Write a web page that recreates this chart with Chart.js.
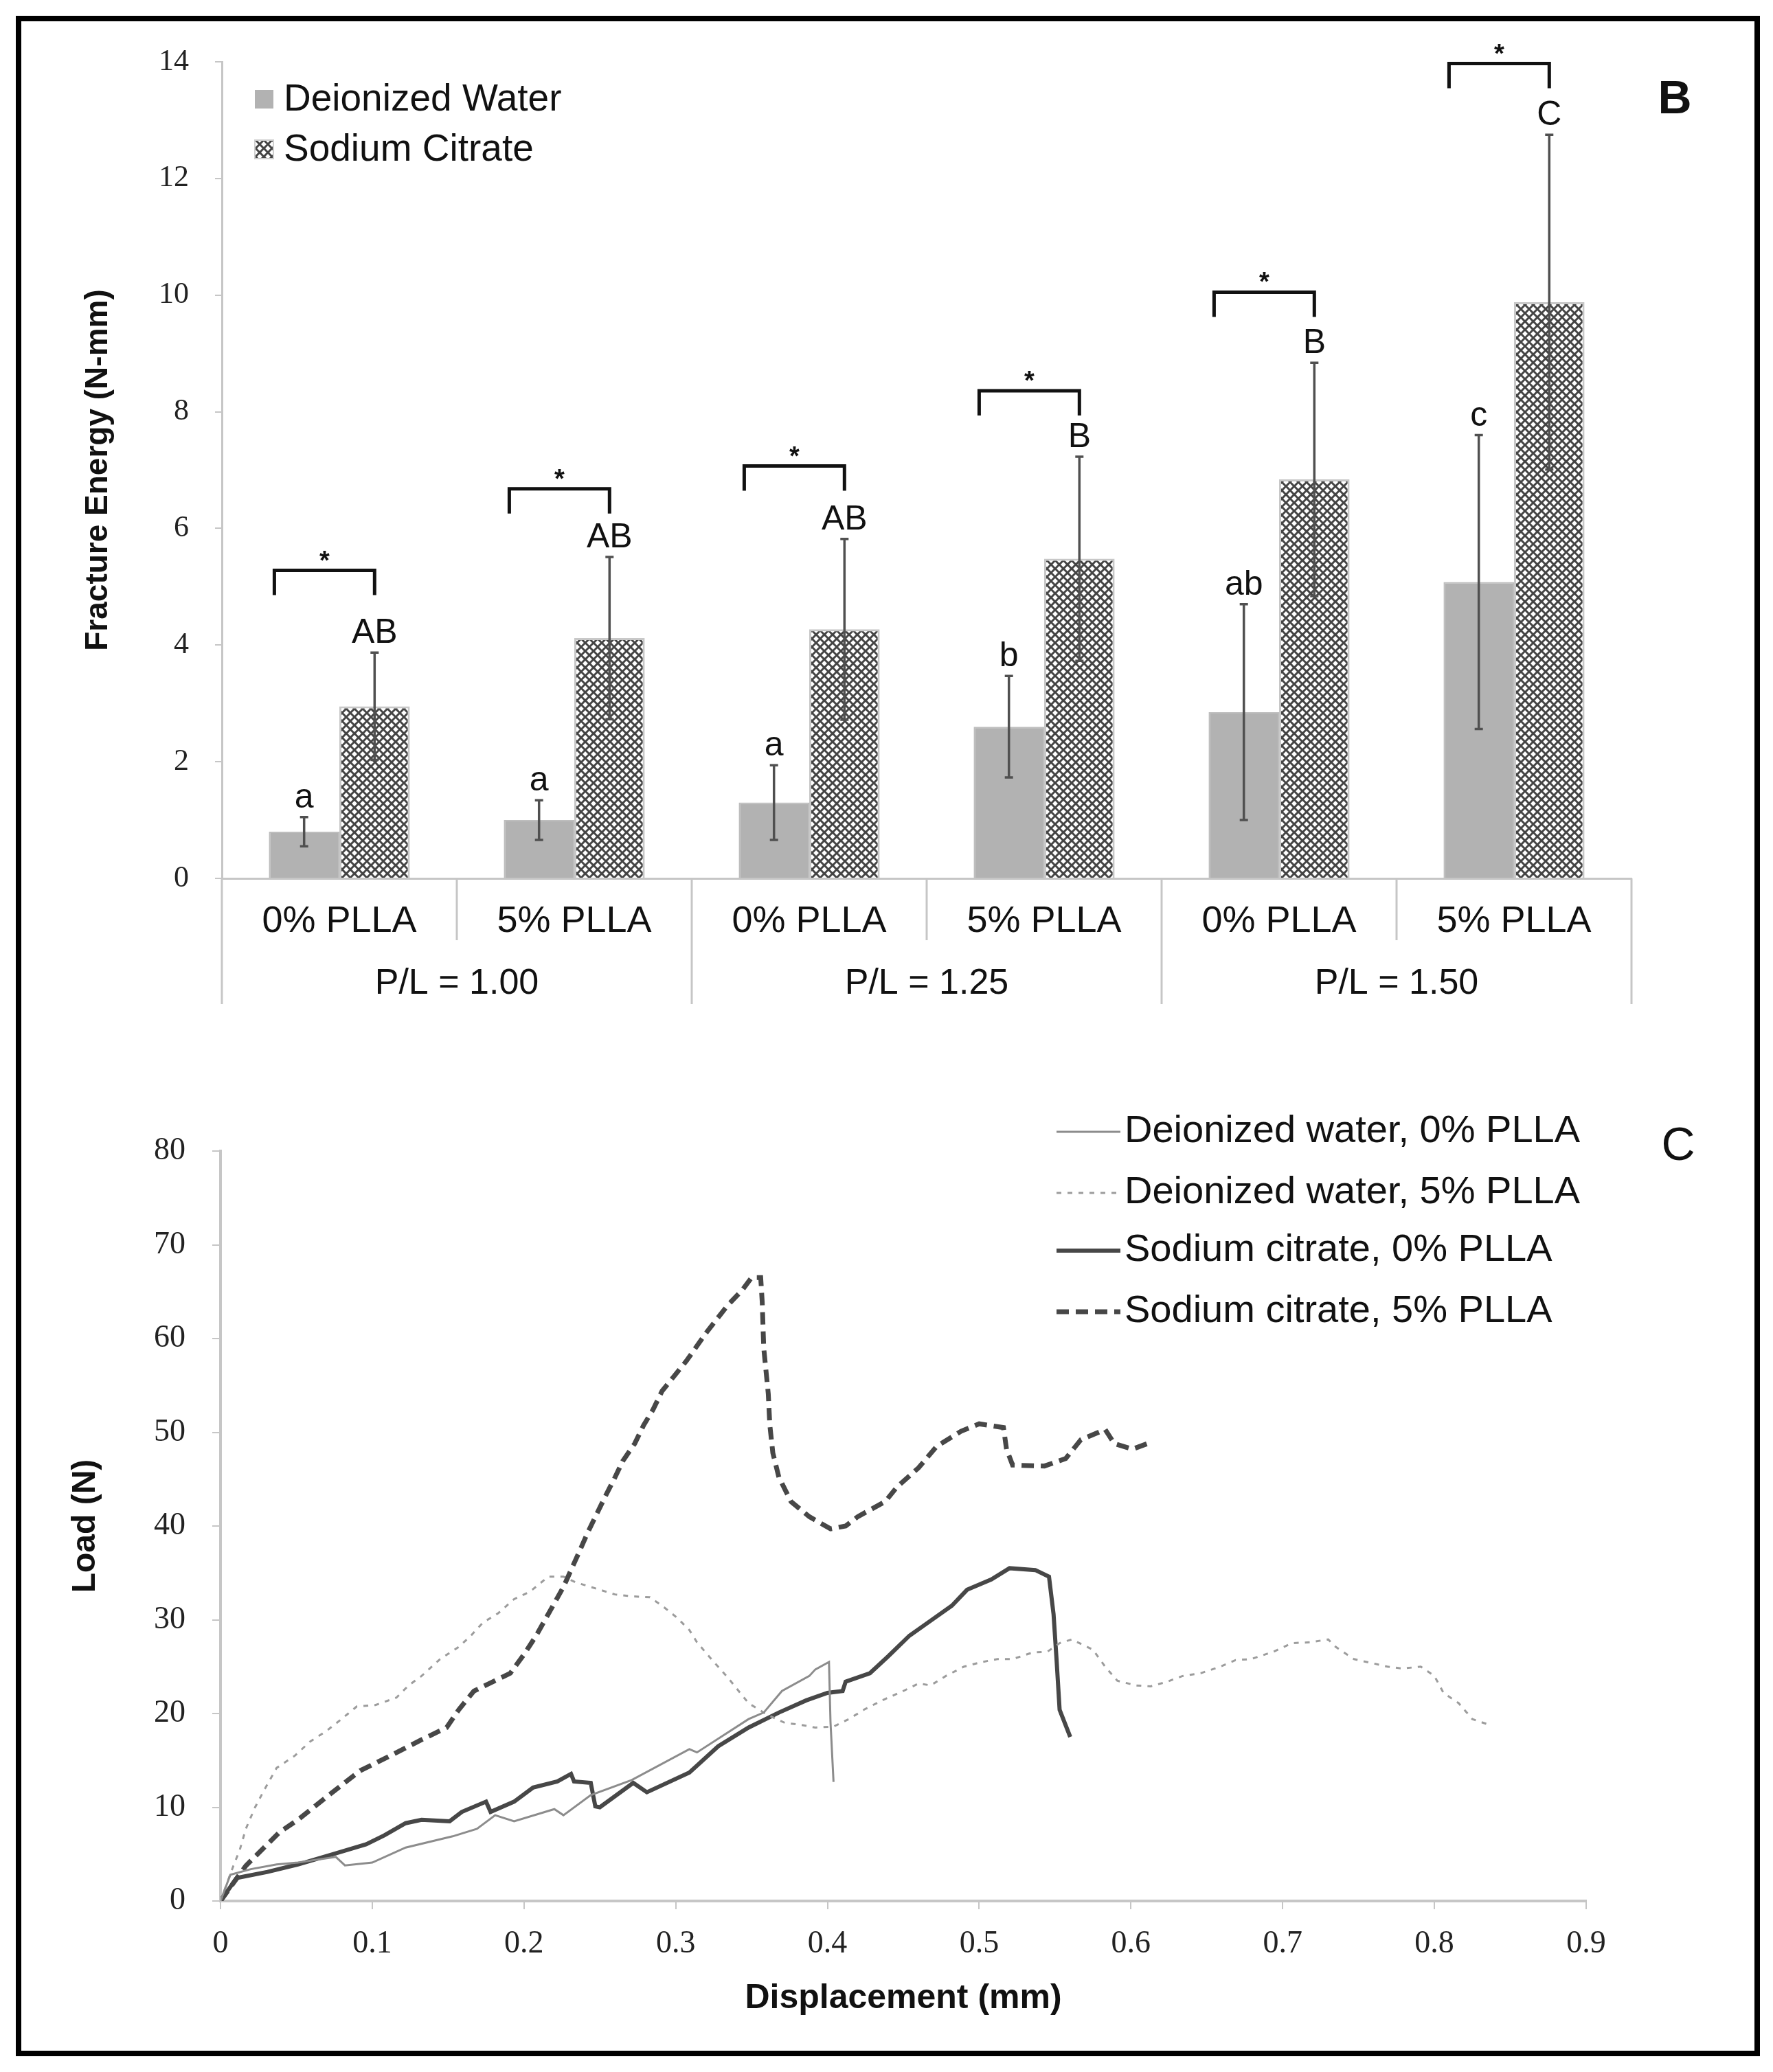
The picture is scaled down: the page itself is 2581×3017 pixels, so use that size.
<!DOCTYPE html>
<html>
<head>
<meta charset="utf-8">
<script src="https://cdn.jsdelivr.net/npm/chart.js@4.4.0/dist/chart.umd.min.js"></script>
<style>
  body { margin: 0; background: #fff; width: 2581px; height: 3017px; position: relative; overflow: hidden; }
  #frame { position: absolute; left: 23px; top: 23px; width: 2539px; height: 2971px; border: 8px solid #000; box-sizing: border-box; }
  #c1 { position: absolute; left: 0; top: 0; }
  #c2 { position: absolute; left: 0; top: 1500px; }
</style>
</head>
<body>
<div id="frame"></div>
<canvas id="c1" width="2581" height="1500"></canvas>
<canvas id="c2" width="2581" height="1517"></canvas>
<script>
// ---- panel B data ----
const categories = ["0% PLLA", "5% PLLA", "0% PLLA", "5% PLLA", "0% PLLA", "5% PLLA"];
const groups = ["P/L = 1.00", "P/L = 1.25", "P/L = 1.50"];
const waterMean = [0.8, 1.0, 1.3, 2.6, 2.85, 5.08];
const waterErr = [0.25, 0.34, 0.64, 0.87, 1.85, 2.52];
const citrateMean = [2.95, 4.12, 4.27, 5.48, 6.84, 9.88];
const citrateErr = [0.92, 1.39, 1.55, 1.75, 2.0, 2.87];
const waterLetters = ["a", "a", "a", "b", "ab", "c"];
const citrateLetters = ["AB", "AB", "AB", "B", "B", "C"];
const bracketLevel = [5.28, 6.68, 7.07, 8.36, 10.05, 13.97];

// ---- panel C data (displacement mm, load N) ----
const dw0X = [0, 0.0065, 0.02, 0.037, 0.051, 0.076, 0.082, 0.1, 0.122, 0.153, 0.169, 0.181, 0.1935, 0.22, 0.226, 0.244, 0.271, 0.309, 0.314, 0.348, 0.358, 0.37, 0.388, 0.392, 0.401, 0.402, 0.404];
const dw0Y = [0, 2.8, 3.4, 3.9, 4.1, 4.7, 3.8, 4.1, 5.7, 6.9, 7.7, 9.15, 8.5, 9.8, 9.15, 11.3, 12.9, 16.2, 15.85, 19.4, 20.1, 22.4, 24.0, 24.7, 25.5, 19.1, 12.7];
const dw5X = [0, 0.0085, 0.0126, 0.0167, 0.0228, 0.029, 0.037, 0.049, 0.059, 0.0695,
  0.0797, 0.0898, 0.102, 0.116, 0.124, 0.1325, 0.1447, 0.157, 0.165, 0.173,
  0.183, 0.1935, 0.204, 0.216, 0.226, 0.234, 0.244, 0.26, 0.271, 0.283,
  0.291, 0.301, 0.309, 0.314, 0.324, 0.334, 0.34, 0.348, 0.36, 0.372,
  0.382, 0.392, 0.404, 0.414, 0.424, 0.436, 0.45, 0.46, 0.468, 0.478,
  0.49, 0.502, 0.512, 0.522, 0.535, 0.545, 0.553, 0.561, 0.575, 0.583,
  0.591, 0.603, 0.613, 0.624, 0.634, 0.646, 0.659, 0.669, 0.679, 0.694,
  0.706, 0.718, 0.73, 0.735, 0.747, 0.761, 0.769, 0.779, 0.791, 0.8,
  0.806, 0.816, 0.825, 0.836];
const dw5Y = [0, 3.76, 5.4, 7.7, 10.0, 11.9, 14.2, 15.5, 17.0, 18.1,
  19.4, 20.75, 20.9, 21.7, 23.0, 24.0, 25.8, 27.1, 28.3, 29.7,
  30.7, 32.2, 33.0, 34.6, 34.6, 34.0, 33.5, 32.7, 32.5, 32.4,
  31.5, 30.2, 28.9, 27.6, 25.7, 23.9, 22.7, 21.1, 19.9, 19.0,
  18.8, 18.5, 18.6, 19.4, 20.4, 21.4, 22.4, 23.2, 23.0, 24.0,
  25.0, 25.5, 25.8, 25.8, 26.5, 26.6, 27.5, 27.9, 26.8, 25.0,
  23.5, 23.0, 22.9, 23.4, 24.0, 24.3, 25.0, 25.7, 25.8, 26.6,
  27.5, 27.6, 27.9, 27.1, 25.8, 25.3, 25.0, 24.8, 25.0, 24.0,
  22.2, 21.1, 19.4, 18.8];
const sc0X = [0, 0.0106, 0.031, 0.051, 0.0756, 0.096, 0.108, 0.122, 0.1325, 0.151,
  0.159, 0.175, 0.178, 0.1935, 0.206, 0.222, 0.231, 0.233, 0.244, 0.247,
  0.25, 0.272, 0.281, 0.309, 0.328, 0.348, 0.368, 0.386, 0.4, 0.41,
  0.412, 0.428, 0.44, 0.454, 0.468, 0.482, 0.492, 0.508, 0.52, 0.537,
  0.546, 0.549, 0.551, 0.553, 0.56];
const sc0Y = [0, 2.45, 3.1, 3.9, 5.07, 6.05, 7.0, 8.3, 8.66, 8.5,
  9.5, 10.6, 9.5, 10.6, 12.1, 12.75, 13.56, 12.75, 12.6, 10.1,
  10.0, 12.6, 11.6, 13.7, 16.5, 18.5, 20.1, 21.4, 22.2, 22.4,
  23.4, 24.3, 26.1, 28.3, 29.9, 31.5, 33.2, 34.3, 35.5, 35.3,
  34.6, 30.6, 25.7, 20.4, 17.5];
const sc5X = [0, 0.0167, 0.039, 0.051, 0.0715, 0.092, 0.112, 0.1325, 0.149, 0.157,
  0.167, 0.181, 0.191, 0.2, 0.208, 0.216, 0.226, 0.236, 0.242, 0.248,
  0.254, 0.26, 0.265, 0.273, 0.279, 0.285, 0.291, 0.299, 0.307, 0.32,
  0.334, 0.344, 0.35, 0.356, 0.357, 0.358, 0.361, 0.362, 0.364, 0.368,
  0.376, 0.388, 0.402, 0.412, 0.42, 0.438, 0.446, 0.46, 0.472, 0.488,
  0.5, 0.516, 0.518, 0.522, 0.543, 0.557, 0.567, 0.583, 0.589, 0.601,
  0.611];
const sc5Y = [0, 3.76, 7.35, 8.66, 11.3, 13.9, 15.5, 17.2, 18.5, 20.4,
  22.4, 23.5, 24.3, 26.3, 28.3, 30.6, 33.5, 37.1, 39.3, 41.3,
  43.3, 45.2, 46.9, 48.8, 50.8, 52.4, 54.4, 56.0, 57.6, 60.6,
  63.5, 65.2, 66.5, 66.5, 63.9, 59.0, 54.1, 50.8, 47.8, 45.2,
  42.6, 41.0, 39.7, 40.0, 41.0, 42.6, 44.2, 46.2, 48.5, 50.1,
  50.9, 50.5, 48.2, 46.5, 46.4, 47.2, 49.2, 50.3, 48.8, 48.2,
  48.8];
const seriesNames = ["Deionized water, 0% PLLA", "Deionized water, 5% PLLA", "Sodium citrate, 0% PLLA", "Sodium citrate, 5% PLLA"];

const SANS = "Liberation Sans";
const SERIF = "Liberation Serif";
const AXIS_GREY = "#c6c6c6";

function pts(xs, ys) {
  return xs.map((x, i) => ({ x: x, y: ys[i] }));
}

function hatch() {
  const c = document.createElement("canvas");
  c.width = c.height = 12;
  const g = c.getContext("2d");
  g.fillStyle = "#fff";
  g.fillRect(0, 0, 12, 12);
  g.strokeStyle = "#444";
  g.lineWidth = 3;
  g.beginPath();
  g.moveTo(-2, -2); g.lineTo(14, 14);
  g.moveTo(14, -2); g.lineTo(-2, 14);
  g.stroke();
  return g.createPattern(c, "repeat");
}
const hatchFill = hatch();

// error bars, letters, brackets, category labels, legend for panel B
const barDecor = {
  id: "barDecor",
  afterDatasetsDraw(chart) {
    const ctx = chart.ctx, y = chart.scales.y;
    const wBars = chart.getDatasetMeta(0).data, cBars = chart.getDatasetMeta(1).data;
    ctx.save();
    [[wBars, waterMean, waterErr, waterLetters], [cBars, citrateMean, citrateErr, citrateLetters]].forEach(([bars, mean, err, letters]) => {
      bars.forEach((b, i) => {
        const top = y.getPixelForValue(mean[i] + err[i]);
        const bot = y.getPixelForValue(mean[i] - err[i]);
        ctx.strokeStyle = "#505050";
        ctx.lineWidth = 3.5;
        ctx.beginPath();
        ctx.moveTo(b.x, top); ctx.lineTo(b.x, bot);
        ctx.moveTo(b.x - 6, top); ctx.lineTo(b.x + 6, top);
        ctx.moveTo(b.x - 6, bot); ctx.lineTo(b.x + 6, bot);
        ctx.stroke();
        ctx.fillStyle = "#111";
        ctx.font = "50px " + SANS;
        ctx.textAlign = "center";
        ctx.textBaseline = "alphabetic";
        ctx.fillText(letters[i], b.x, top - 14);
      });
    });
    // significance brackets
    wBars.forEach((b, i) => {
      const x1 = b.x - b.width / 2 + 8, x2 = cBars[i].x;
      const yl = y.getPixelForValue(bracketLevel[i]);
      ctx.strokeStyle = "#111";
      ctx.lineWidth = 5;
      ctx.beginPath();
      ctx.moveTo(x1, yl + 36); ctx.lineTo(x1, yl); ctx.lineTo(x2, yl); ctx.lineTo(x2, yl + 36);
      ctx.stroke();
      ctx.fillStyle = "#111";
      ctx.font = "bold 38px " + SANS;
      ctx.textAlign = "center";
      ctx.fillText("*", (x1 + x2) / 2, yl - 2);
    });
    ctx.restore();
  },
  afterDraw(chart) {
    const ctx = chart.ctx, a = chart.chartArea;
    const step = (a.right - a.left) / categories.length;
    ctx.save();
    ctx.strokeStyle = AXIS_GREY;
    ctx.lineWidth = 3;
    for (let k = 0; k <= categories.length; k++) {
      const bx = a.left + k * step;
      ctx.beginPath();
      ctx.moveTo(bx, a.bottom);
      ctx.lineTo(bx, k % 2 === 0 ? 1462 : 1369);
      ctx.stroke();
    }
    ctx.fillStyle = "#111";
    ctx.textAlign = "center";
    ctx.textBaseline = "middle";
    ctx.font = "54px " + SANS;
    categories.forEach((c, i) => ctx.fillText(c, chart.scales.x.getPixelForValue(i), 1342));
    ctx.font = "52px " + SANS;
    groups.forEach((g, i) => ctx.fillText(g, a.left + (2 * i + 1) * step, 1433));
    // legend
    ctx.textAlign = "left";
    ctx.font = "55px " + SANS;
    ctx.fillStyle = "#b2b2b2";
    ctx.fillRect(371, 131, 27, 27);
    ctx.fillStyle = hatchFill;
    ctx.fillRect(371, 204, 27, 27);
    ctx.strokeStyle = "#cfcfcf";
    ctx.lineWidth = 2;
    ctx.strokeRect(371, 204, 27, 27);
    ctx.fillStyle = "#111";
    ctx.fillText("Deionized Water", 413, 146);
    ctx.fillText("Sodium Citrate", 413, 219);
    ctx.font = "bold 68px " + SANS;
    ctx.textAlign = "center";
    ctx.fillText("B", 2438, 146);
    ctx.restore();
  }
};

new Chart(document.getElementById("c1"), {
  type: "bar",
  data: {
    labels: categories,
    datasets: [
      { label: "Deionized Water", data: waterMean, backgroundColor: "#b2b2b2", borderColor: "#bdbdbd", borderWidth: 2, categoryPercentage: 0.6, barPercentage: 1 },
      { label: "Sodium Citrate", data: citrateMean, backgroundColor: hatchFill, borderColor: "#c8c8c8", borderWidth: 3, categoryPercentage: 0.6, barPercentage: 1 }
    ]
  },
  options: {
    responsive: false,
    animation: false,
    devicePixelRatio: 1,
    layout: { padding: { left: 0, top: 90, right: 206, bottom: 0 } },
    plugins: { legend: { display: false }, tooltip: { enabled: false } },
    scales: {
      x: {
        grid: { display: false },
        border: { display: true, color: AXIS_GREY, width: 3 },
        ticks: { display: false },
        afterFit(s) { s.height = 221; }
      },
      y: {
        min: 0, max: 14,
        ticks: { stepSize: 2, font: { family: SERIF, size: 44 }, color: "#222", padding: 38 },
        grid: { drawOnChartArea: false, drawTicks: true, tickLength: 10, color: AXIS_GREY, lineWidth: 2 },
        border: { color: AXIS_GREY, width: 3 },
        title: { display: true, text: "Fracture Energy (N-mm)", color: "#111", font: { family: SANS, size: 46, weight: "bold" }, padding: { top: 116, bottom: 0 } },
        afterFit(s) { s.width = 323; }
      }
    }
  },
  plugins: [barDecor]
});

// panel C
const lineStyles = [
  { color: "#8c8c8c", width: 3, dash: [] },
  { color: "#9c9c9c", width: 3, dash: [7, 9] },
  { color: "#474747", width: 6, dash: [] },
  { color: "#474747", width: 7, dash: [18, 10] }
];

const lineLegend = {
  id: "lineLegend",
  afterDraw(chart) {
    const ctx = chart.ctx;
    const rows = [148, 237, 321, 410];
    ctx.save();
    seriesNames.forEach((name, i) => {
      const st = lineStyles[i];
      ctx.strokeStyle = st.color;
      ctx.lineWidth = st.width;
      ctx.setLineDash(st.dash);
      ctx.beginPath();
      ctx.moveTo(1538, rows[i]); ctx.lineTo(1631, rows[i]);
      ctx.stroke();
      ctx.setLineDash([]);
      ctx.fillStyle = "#111";
      ctx.font = "56px " + SANS;
      ctx.textAlign = "left";
      ctx.textBaseline = "middle";
      ctx.fillText(name, 1637, rows[i]);
    });
    ctx.font = "68px " + SANS;
    ctx.textAlign = "center";
    ctx.fillText("C", 2443, 170);
    ctx.restore();
  }
};

const lineSets = [[dw0X, dw0Y], [dw5X, dw5Y], [sc0X, sc0Y], [sc5X, sc5Y]];

new Chart(document.getElementById("c2"), {
  type: "line",
  data: {
    datasets: lineSets.map(([xs, ys], i) => ({
      label: seriesNames[i],
      data: pts(xs, ys),
      borderColor: lineStyles[i].color,
      borderWidth: lineStyles[i].width,
      borderDash: lineStyles[i].dash,
      pointRadius: 0,
      tension: 0,
      fill: false
    }))
  },
  options: {
    responsive: false,
    animation: false,
    devicePixelRatio: 1,
    layout: { padding: { left: 0, top: 176, right: 272, bottom: 0 } },
    plugins: { legend: { display: false }, tooltip: { enabled: false } },
    scales: {
      x: {
        type: "linear", min: 0, max: 0.9,
        ticks: { stepSize: 0.1, font: { family: SERIF, size: 46 }, color: "#222", padding: 23, callback: v => String(+v.toFixed(1)) },
        grid: { drawOnChartArea: false, drawTicks: true, tickLength: 12, color: AXIS_GREY, lineWidth: 2 },
        border: { color: AXIS_GREY, width: 4 },
        title: { display: true, text: "Displacement (mm)", color: "#111", font: { family: SANS, size: 50, weight: "bold" }, padding: { top: 0, bottom: 77 } },
        afterFit(s) { s.height = 249; }
      },
      y: {
        min: 0, max: 80,
        ticks: { stepSize: 10, font: { family: SERIF, size: 46 }, color: "#222", padding: 39 },
        grid: { drawOnChartArea: false, drawTicks: true, tickLength: 12, color: AXIS_GREY, lineWidth: 2 },
        border: { color: AXIS_GREY, width: 4 },
        title: { display: true, text: "Load (N)", color: "#111", font: { family: SANS, size: 48, weight: "bold" }, padding: { top: 96, bottom: 0 } },
        afterFit(s) { s.width = 321; }
      }
    }
  },
  plugins: [lineLegend]
});
</script>
</body>
</html>
